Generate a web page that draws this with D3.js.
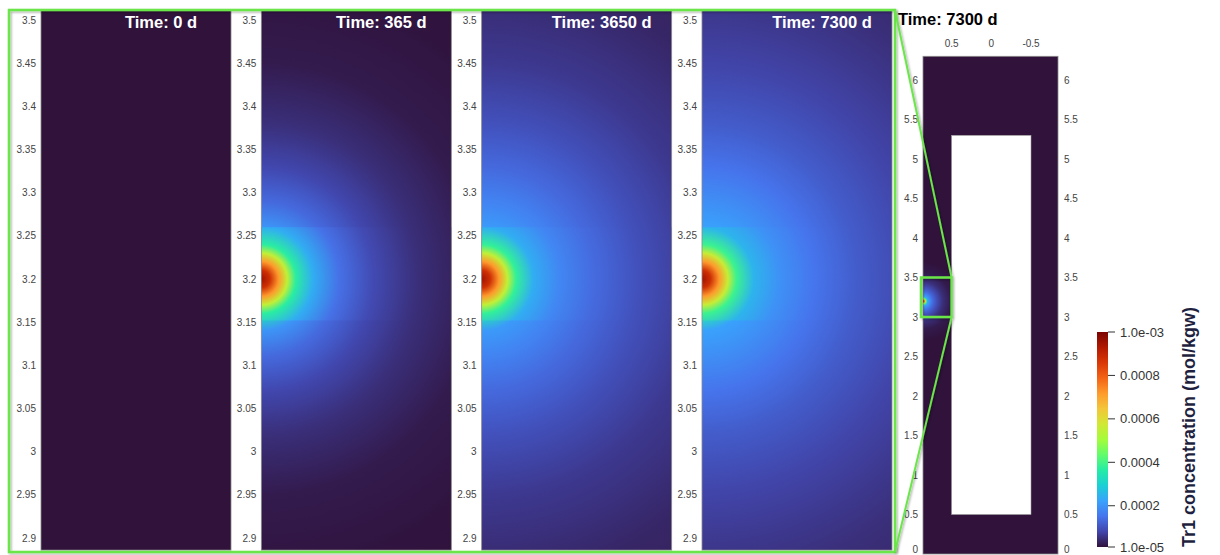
<!DOCTYPE html>
<html>
<head>
<meta charset="utf-8">
<script src="https://cdn.jsdelivr.net/npm/d3@7"></script>
<style>
  body { margin: 0; background: #fff; }
  svg { display: block; font-family: "Liberation Sans", Arial, sans-serif; }
</style>
</head>
<body>
<div id="chart"></div>
<script>
// ---- data ----
const times = ["0", "365", "3650", "7300"];
// distance from the source (m) where concentrations were read
const radius = [0, 0.01, 0.02, 0.03, 0.04, 0.06, 0.09, 0.13, 0.18, 0.25, 0.35, 0.5];
// Tr1 concentration (mol/kgw) along those distances, outside and inside the refined band
const outer0 = [1e-5, 1e-5, 1e-5, 1e-5, 1e-5, 1e-5, 1e-5, 1e-5, 1e-5, 1e-5, 1e-5, 1e-5];
const band0 = [1e-5, 1e-5, 1e-5, 1e-5, 1e-5, 1e-5, 1e-5, 1e-5, 1e-5, 1e-5, 1e-5, 1e-5];
const outer365 = [9.5e-4, 8.8e-4, 7.2e-4, 5.5e-4, 3.4e-4, 2.0e-4, 1.34e-4, 8.4e-5, 5.0e-5, 2.2e-5, 1.2e-5, 1.0e-5];
const band365 = [9.5e-4, 8.8e-4, 7.2e-4, 5.5e-4, 3.7e-4, 2.4e-4, 1.45e-4, 8.8e-5, 5.0e-5, 2.2e-5, 1.2e-5, 1.0e-5];
const outer3650 = [9.5e-4, 8.8e-4, 7.2e-4, 5.5e-4, 3.5e-4, 2.1e-4, 1.73e-4, 1.34e-4, 9.9e-5, 6.4e-5, 3.8e-5, 2.2e-5];
const band3650 = [9.5e-4, 8.8e-4, 7.2e-4, 5.5e-4, 3.8e-4, 2.4e-4, 1.8e-4, 1.36e-4, 9.9e-5, 6.4e-5, 3.8e-5, 2.2e-5];
const outer7300 = [9.5e-4, 8.8e-4, 7.2e-4, 5.6e-4, 3.6e-4, 2.2e-4, 1.9e-4, 1.5e-4, 1.14e-4, 7.9e-5, 5.0e-5, 3.0e-5];
const band7300 = [9.5e-4, 8.8e-4, 7.2e-4, 5.6e-4, 3.9e-4, 2.5e-4, 1.95e-4, 1.52e-4, 1.14e-4, 7.9e-5, 5.0e-5, 3.0e-5];
// overview (full domain) at 7300 d
const overview7300 = [9.5e-4, 9.0e-4, 7.5e-4, 5.5e-4, 4.1e-4, 2.3e-4, 1.8e-4, 1.3e-4, 8.9e-5, 5.0e-5, 2.2e-5, 1.0e-5];

const sourceY = 3.2;
const bandY = [3.152, 3.26];
const zoomY = [2.886, 3.511];
const zoomTicks = [3.5, 3.45, 3.4, 3.35, 3.3, 3.25, 3.2, 3.15, 3.1, 3.05, 3, 2.95, 2.9];
const fullX = [0.86, -0.84];
const fullY = [0, 6.3];
const fullXTicks = [0.5, 0, -0.5];
const fullYTicks = [0, 0.5, 1, 1.5, 2, 2.5, 3, 3.5, 4, 4.5, 5, 5.5, 6];
const hole = { x: [0.5, -0.5], y: [0.5, 5.3] };
const zoomBox = { x: [0.885, 0.5], y: [3.0, 3.5] };
const cbRange = [1e-5, 1e-3];
const cbTicks = [1e-5, 2e-4, 4e-4, 6e-4, 8e-4, 1e-3];
const cbLabels = ["1.0e-05", "0.0002", "0.0004", "0.0006", "0.0008", "1.0e-03"];
const turbo = ["#30123b", "#4145ab", "#4675ed", "#39a2fc", "#1bcfd4", "#24eca6", "#61fc6c", "#a4fc3b",
  "#d1e834", "#f3c63a", "#fe9b2d", "#f36315", "#d93806", "#b11901", "#7a0402"];

const outerSets = [outer0, outer365, outer3650, outer7300];
const bandSets = [band0, band365, band3650, band7300];

// ---- setup ----
const W = 1220, H = 555;
const green = "#6be64a";
const svg = d3.select("#chart").append("svg").attr("width", W).attr("height", H);
const defs = svg.append("defs");

const shadow = defs.append("filter").attr("id", "shadow")
  .attr("filterUnits", "userSpaceOnUse").attr("x", 0).attr("y", 0).attr("width", W).attr("height", H);
shadow.append("feDropShadow").attr("dx", 1.2).attr("dy", 1.2).attr("stdDeviation", 1.2)
  .attr("flood-color", "#000").attr("flood-opacity", 0.35);

const turboScale = d3.scaleLinear()
  .domain(turbo.map((c, i) => i / (turbo.length - 1)))
  .range(turbo)
  .interpolate(d3.interpolateRgb);
const norm = d3.scaleLinear().domain(cbRange).range([0, 1]).clamp(true);
const colorOf = c => turboScale(norm(c));

function radialGradient(id, cx, cy, pxPerUnit, conc) {
  const rMax = radius[radius.length - 1];
  const g = defs.append("radialGradient").attr("id", id)
    .attr("gradientUnits", "userSpaceOnUse")
    .attr("cx", cx).attr("cy", cy).attr("fx", cx).attr("fy", cy)
    .attr("r", rMax * pxPerUnit);
  g.selectAll("stop").data(radius).join("stop")
    .attr("offset", d => d / rMax)
    .attr("stop-color", (d, i) => colorOf(conc[i]));
}

// ---- zoomed panels ----
const yMain = d3.scaleLinear().domain([2.9, 3.5]).range([538, 20]);
const pxPerUnit = (yMain(3.2) - yMain(3.3)) / 0.1;
const panelX = d3.scaleLinear().domain([0, 3]).range([41, 702]);
const fieldW = 190;

times.forEach((t, i) => {
  const x0 = panelX(i);
  const yTop = yMain(zoomY[1]), yBot = yMain(zoomY[0]);
  const g = svg.append("g");

  radialGradient("outer" + i, x0, yMain(sourceY), pxPerUnit, outerSets[i]);
  radialGradient("band" + i, x0, yMain(sourceY), pxPerUnit, bandSets[i]);

  g.append("rect")
    .attr("x", x0).attr("y", yTop).attr("width", fieldW).attr("height", yBot - yTop)
    .attr("fill", `url(#outer${i})`);
  g.append("rect")
    .attr("x", x0).attr("y", yMain(bandY[1])).attr("width", fieldW)
    .attr("height", yMain(bandY[0]) - yMain(bandY[1]))
    .attr("fill", `url(#band${i})`);
  g.append("rect")
    .attr("x", x0).attr("y", yTop).attr("width", fieldW).attr("height", yBot - yTop)
    .attr("fill", "none").attr("stroke", "#8a8a8a").attr("stroke-width", 0.8);

  g.selectAll("text.tick").data(zoomTicks).join("text")
    .attr("class", "tick")
    .attr("x", x0 - 5).attr("y", d => yMain(d)).attr("dy", "0.35em")
    .attr("text-anchor", "end").attr("font-size", 10).attr("fill", "#444")
    .text(d => String(d));

  g.append("text")
    .attr("x", x0 + 120).attr("y", 28)
    .attr("text-anchor", "middle").attr("font-weight", "bold").attr("font-size", 16.5)
    .attr("fill", "#fff")
    .text(`Time: ${t} d`);
});

// green frame around the zoomed panels
const frame = { x0: 9, y0: 10, x1: 895, y1: 552 };
svg.append("rect")
  .attr("x", frame.x0).attr("y", frame.y0)
  .attr("width", frame.x1 - frame.x0).attr("height", frame.y1 - frame.y0)
  .attr("fill", "none").attr("stroke", green).attr("stroke-width", 2.5)
  .attr("filter", "url(#shadow)");

// ---- overview of full domain ----
const xs = d3.scaleLinear().domain(fullX).range([923, 1058]);
const ys = d3.scaleLinear().domain([0, 6]).range([554, 80]);
const fullPx = (ys(0) - ys(1));

radialGradient("overview", xs(fullX[0]), ys(sourceY), fullPx, overview7300);

const ov = svg.append("g");
ov.append("rect")
  .attr("x", xs(fullX[0])).attr("y", ys(fullY[1]))
  .attr("width", xs(fullX[1]) - xs(fullX[0])).attr("height", ys(fullY[0]) - ys(fullY[1]))
  .attr("fill", "url(#overview)").attr("stroke", "#8a8a8a").attr("stroke-width", 0.8);
ov.append("rect")
  .attr("x", xs(hole.x[0])).attr("y", ys(hole.y[1]))
  .attr("width", xs(hole.x[1]) - xs(hole.x[0])).attr("height", ys(hole.y[0]) - ys(hole.y[1]))
  .attr("fill", "#fff").attr("stroke", "#9a9a9a").attr("stroke-width", 0.6);

// labels at the bottom edge are nudged up so they stay inside the picture
const labelY = d => Math.min(ys(d), H - 6);
ov.selectAll("text.yl").data(fullYTicks).join("text")
  .attr("class", "yl")
  .attr("x", xs(fullX[0]) - 5).attr("y", labelY).attr("dy", "0.35em")
  .attr("text-anchor", "end").attr("font-size", 10).attr("fill", "#444")
  .text(d => String(d));
ov.selectAll("text.yr").data(fullYTicks).join("text")
  .attr("class", "yr")
  .attr("x", xs(fullX[1]) + 6).attr("y", labelY).attr("dy", "0.35em")
  .attr("text-anchor", "start").attr("font-size", 10).attr("fill", "#444")
  .text(d => String(d));
ov.selectAll("text.xt").data(fullXTicks).join("text")
  .attr("class", "xt")
  .attr("x", d => xs(d)).attr("y", 43).attr("dy", "0.35em")
  .attr("text-anchor", "middle").attr("font-size", 10).attr("fill", "#444")
  .text(d => String(d));

ov.append("text")
  .attr("x", 898).attr("y", 25)
  .attr("font-weight", "bold").attr("font-size", 16.5).attr("fill", "#000")
  .text(`Time: ${times[3]} d`);

// zoom box and connectors
const bx0 = xs(zoomBox.x[0]), bx1 = xs(zoomBox.x[1]);
const by0 = ys(zoomBox.y[1]), by1 = ys(zoomBox.y[0]);
const links = svg.append("g").attr("filter", "url(#shadow)")
  .attr("stroke", green).attr("fill", "none");
links.append("rect")
  .attr("x", bx0).attr("y", by0).attr("width", bx1 - bx0).attr("height", by1 - by0)
  .attr("stroke-width", 2.5);
links.append("line")
  .attr("x1", frame.x1).attr("y1", frame.y0).attr("x2", bx1).attr("y2", by0)
  .attr("stroke-width", 2);
links.append("line")
  .attr("x1", frame.x1).attr("y1", frame.y1).attr("x2", bx1).attr("y2", by1)
  .attr("stroke-width", 2);

// ---- colour bar ----
const cb = d3.scaleLinear().domain(cbRange).range([547, 332]);
const cbGrad = defs.append("linearGradient").attr("id", "cbgrad")
  .attr("x1", 0).attr("y1", 1).attr("x2", 0).attr("y2", 0);
cbGrad.selectAll("stop").data(turbo).join("stop")
  .attr("offset", (d, i) => i / (turbo.length - 1))
  .attr("stop-color", d => d);

const cbg = svg.append("g");
cbg.append("rect")
  .attr("x", 1097).attr("y", cb(cbRange[1])).attr("width", 11)
  .attr("height", cb(cbRange[0]) - cb(cbRange[1]))
  .attr("fill", "url(#cbgrad)");
cbg.selectAll("line.cbt").data(cbTicks).join("line")
  .attr("class", "cbt")
  .attr("x1", 1108).attr("x2", 1115)
  .attr("y1", d => cb(d)).attr("y2", d => cb(d))
  .attr("stroke", "#333").attr("stroke-width", 1);
cbg.selectAll("text.cbl").data(cbTicks).join("text")
  .attr("class", "cbl")
  .attr("x", 1120).attr("y", d => cb(d)).attr("dy", "0.35em")
  .attr("font-size", 13).attr("fill", "#333")
  .text((d, i) => cbLabels[i]);
cbg.append("text")
  .attr("transform", "translate(1195,547) rotate(-90)")
  .attr("font-weight", "bold").attr("font-size", 18).attr("fill", "#1f1f3f")
  .text("Tr1 concentration (mol/kgw)");
</script>
</body>
</html>
